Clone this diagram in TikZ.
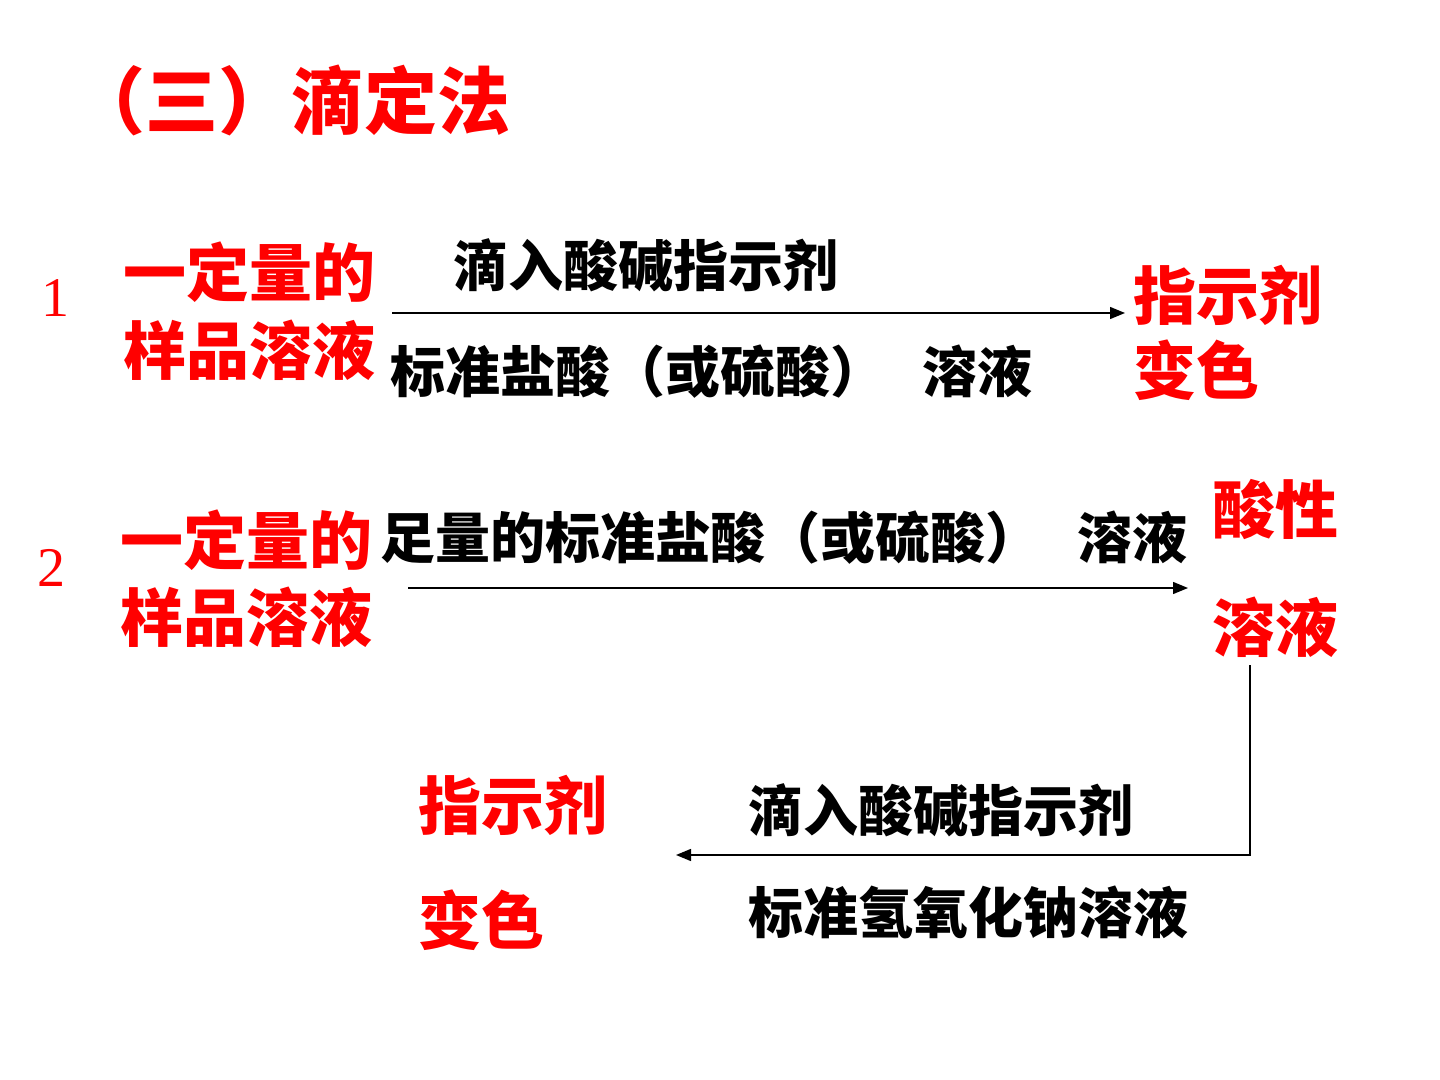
\documentclass[tikz,border=0pt]{standalone}
\usepackage{fontspec}
\setmainfont{Liberation Serif}
\newfontfamily\cjk{Noto Sans CJK SC}
\usetikzlibrary{arrows.meta}
\begin{document}
\begin{tikzpicture}[x=0.5pt,y=-0.5pt,
  titletxt/.style={text=red, font=\cjk\bfseries\fontsize{36.5}{40}\selectfont, inner sep=0, anchor=west},
  redtxt/.style={text=red, font=\cjk\bfseries\fontsize{31.5}{36}\selectfont, inner sep=0, anchor=west},
  blacktxt/.style={text=black, font=\cjk\bfseries\fontsize{27.5}{32}\selectfont, inner sep=0, anchor=west},
  numtxt/.style={text=red, font=\fontsize{28}{32}\selectfont, inner sep=0},
  conn/.style={draw=black, line width=0.7pt, -{Triangle[length=7.5pt,width=6pt]}}]
\useasboundingbox (0,0) rectangle (1440,1080);
\fill[white] (0,0) rectangle (1440,1080);

% title
\node[titletxt] (title) at (72,100) {（三）滴定法};

% row 1
\node[numtxt] (n1) at (55,298) {1};
\node[redtxt] (s1a) at (123,272) {一定量的};
\node[redtxt] (s1b) at (123,350) {样品溶液};
\node[blacktxt] (l1a) at (453,265) {滴入酸碱指示剂};
\node[blacktxt] (l1b) at (390,372) {标准盐酸（或硫酸）\hspace{18.5pt}溶液};
\node[redtxt] (r1a) at (1133,295) {指示剂};
\node[redtxt] (r1b) at (1133,370) {变色};
\coordinate (a1s) at (392,313);
\coordinate (a1e) at (1125,313);
\draw[conn] (a1s) -- (a1e);

% row 2
\node[numtxt] (n2) at (52,568) {2};
\node[redtxt] (s2a) at (120,540) {一定量的};
\node[redtxt] (s2b) at (120,617) {样品溶液};
\node[blacktxt] (l2a) at (380,538) {足量的标准盐酸（或硫酸）\hspace{18.5pt}溶液};
\coordinate (a2s) at (408,588);
\coordinate (a2e) at (1188,588);
\draw[conn] (a2s) -- (a2e);
\node[redtxt] (r2a) at (1212,510) {酸性};
\node[redtxt] (r2b) at (1212,627) {溶液};

% row 3
\coordinate (a3s) at (1250,665);
\coordinate (a3e) at (676,855);
\draw[conn] (a3s) |- (a3e);
\node[redtxt] (r3a) at (418,805) {指示剂};
\node[redtxt] (r3b) at (418,920) {变色};
\node[blacktxt] (l3a) at (748,810) {滴入酸碱指示剂};
\node[blacktxt] (l3b) at (748,912) {标准氢氧化钠溶液};
\end{tikzpicture}
\end{document}
